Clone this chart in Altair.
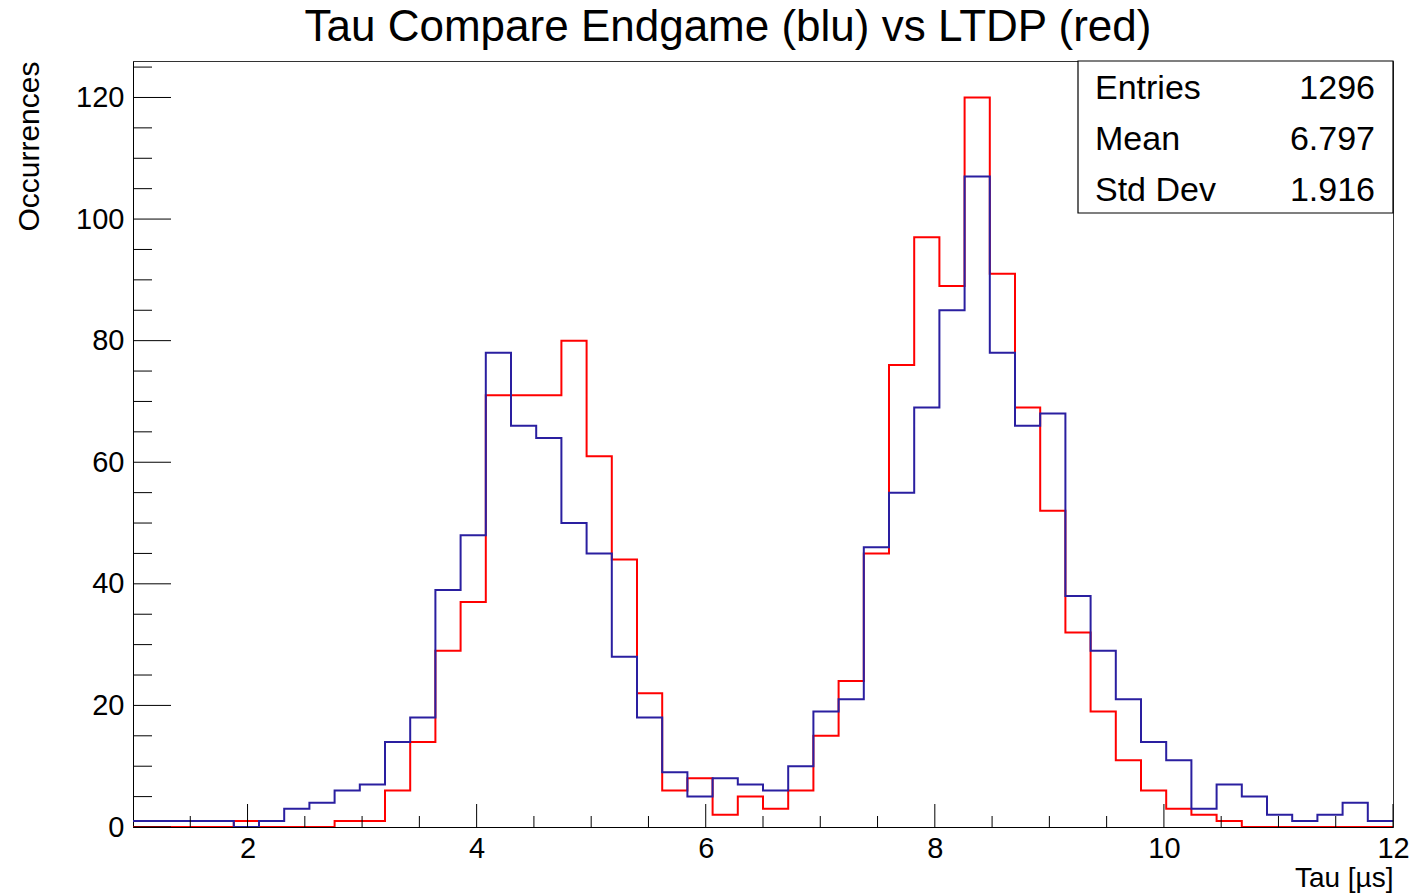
import altair as alt
import numpy as np
import pandas as pd

FONT = "Liberation Sans"

# ---------------- data ----------------
bin_lo = 1.0
bin_hi = 12.0
n_bins = 50

blue_counts = [1, 1, 1, 1, 0, 1, 3, 4, 6, 7,
               14, 18, 39, 48, 78, 66, 64, 50, 45, 28,
               18, 9, 5, 8, 7, 6, 10, 19, 21, 46,
               55, 69, 85, 107, 78, 66, 68, 38, 29, 21,
               14, 11, 3, 7, 5, 2, 1, 2, 4, 1]
red_counts = [0, 0, 0, 0, 1, 0, 0, 0, 1, 1,
              6, 14, 29, 37, 71, 71, 71, 80, 61, 44,
              22, 6, 8, 2, 5, 3, 6, 15, 24, 45,
              76, 97, 89, 120, 91, 69, 52, 32, 19, 11,
              6, 3, 2, 1, 0, 0, 0, 0, 0, 0]

y_max = 126
x_major = [2, 4, 6, 8, 10, 12]
x_minor = [1.5, 2.5, 3, 3.5, 4.5, 5, 5.5, 6.5, 7, 7.5, 8.5, 9, 9.5, 10.5, 11, 11.5]
y_major = [0, 20, 40, 60, 80, 100, 120]
y_minor = [5, 10, 15, 25, 30, 35, 45, 50, 55, 65, 70, 75, 85, 90, 95, 105, 110, 115, 125]

stat_names = ["Entries", "Mean", "Std Dev"]
stat_values = ["1296", "6.797", "1.916"]

title_text = "Tau Compare Endgame (blu) vs LTDP (red)"
x_title = "Tau [µs]"
y_title = "Occurrences"

# ---------------- tables ----------------
edges = np.linspace(bin_lo, bin_hi, n_bins + 1)


def step_table(counts):
    xs = list(edges[:-1]) + [edges[-1]]
    ys = list(counts) + [counts[-1]]
    return pd.DataFrame({"x": xs, "y": ys})


W, H = 1260, 766

x_scale = alt.Scale(domain=[bin_lo, bin_hi], nice=False, zero=False)
y_scale = alt.Scale(domain=[0, y_max], nice=False, zero=True)

x_axis = alt.Axis(values=x_major, format="d", labelFont=FONT, labelFontSize=29,
                  labelColor="black", labelPadding=7, labelFlush=False,
                  ticks=False, tickSize=0, grid=False, domain=True,
                  domainColor="black", domainWidth=1,
                  title=x_title, titleFont=FONT, titleFontSize=28,
                  titleFontWeight="normal", titleColor="black",
                  titleAnchor="end", titleAlign="right", titleBaseline="alphabetic",
                  titleX=W, titleY=59)
y_axis = alt.Axis(values=y_major, format="d", labelFont=FONT, labelFontSize=29,
                  labelColor="black", labelPadding=9, labelFlush=False,
                  ticks=False, tickSize=0, grid=False, domain=True,
                  domainColor="black", domainWidth=1,
                  title=y_title, titleFont=FONT, titleFontSize=30,
                  titleFontWeight="normal", titleColor="black",
                  titleAngle=270, titleAlign="right", titleBaseline="alphabetic",
                  titleX=-95, titleY=0)

red_line = alt.Chart(step_table(red_counts)).mark_line(
    interpolate="step-after", color="#ff0000", strokeWidth=2, clip=True
).encode(
    x=alt.X("x:Q", scale=x_scale, axis=x_axis),
    y=alt.Y("y:Q", scale=y_scale, axis=y_axis),
)

blue_line = alt.Chart(step_table(blue_counts)).mark_line(
    interpolate="step-after", color="#2a1fa0", strokeWidth=2, clip=True
).encode(
    x=alt.X("x:Q", scale=x_scale, axis=x_axis),
    y=alt.Y("y:Q", scale=y_scale, axis=y_axis),
)


# inside ticks (ROOT style)
def yticks(vals, length):
    return alt.Chart(pd.DataFrame({"v": vals})).mark_rule(color="black", strokeWidth=1).encode(
        y=alt.Y("v:Q", scale=y_scale, axis=y_axis),
        x=alt.value(0), x2=alt.value(length))


def xticks(vals, length):
    return alt.Chart(pd.DataFrame({"v": vals})).mark_rule(color="black", strokeWidth=1).encode(
        x=alt.X("v:Q", scale=x_scale, axis=x_axis),
        y=alt.value(H), y2=alt.value(H - length))


tick_layers = [yticks(y_major, 38), yticks(y_minor, 19), xticks(x_major, 23), xticks(x_minor, 11)]

# stats box
box_left = 945
stats_df = pd.DataFrame({"name": stat_names, "value": stat_values})
box = alt.Chart(stats_df.head(1)).mark_rect(fill="white", stroke="black", strokeWidth=1.2).encode(
    x=alt.value(box_left), x2=alt.value(W), y=alt.value(0), y2=alt.value(152))

stat_texts = []
row_base = [38, 89, 140]
for i in range(len(stat_names)):
    d = stats_df.iloc[[i]]
    stat_texts.append(alt.Chart(d).mark_text(
        font=FONT, fontSize=34, align="left", baseline="alphabetic", color="black"
    ).encode(text="name:N", x=alt.value(box_left + 17), y=alt.value(row_base[i])))
    stat_texts.append(alt.Chart(d).mark_text(
        font=FONT, fontSize=34, align="right", baseline="alphabetic", color="black"
    ).encode(text="value:N", x=alt.value(W - 18), y=alt.value(row_base[i])))

chart = alt.layer(red_line, blue_line, *tick_layers, box, *stat_texts).properties(
    width=W, height=H,
    autosize=alt.AutoSizeParams(type="none"),
    padding={"left": 133, "top": 61, "right": 19, "bottom": 68},
    title=alt.TitleParams(title_text, font=FONT, fontSize=44, fontWeight="normal",
                          color="black", anchor="middle", frame="group", dx=-35,
                          dy=42, offset=17, baseline="alphabetic"),
    background="white",
).configure_view(stroke="#333333", strokeWidth=1)

chart.save("out.html", embed_options={"renderer": "svg", "actions": False})
